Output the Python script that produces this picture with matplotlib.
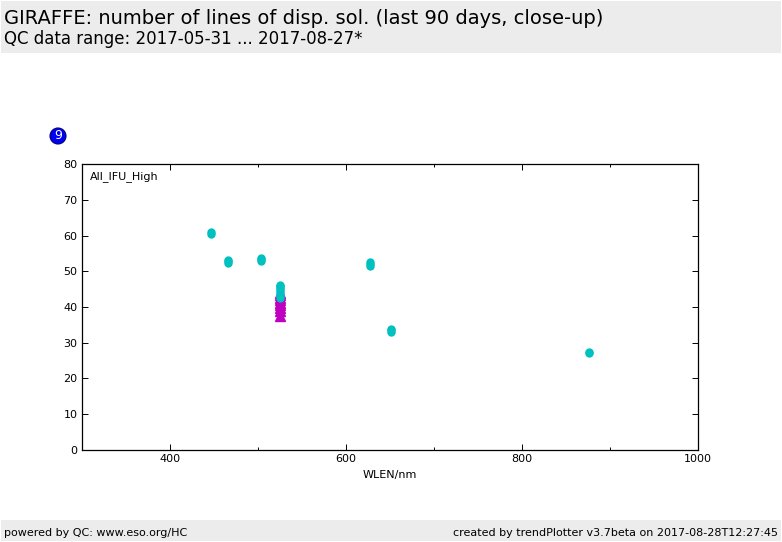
import numpy as np
import matplotlib as mpl
mpl.use('Agg')
import matplotlib.pyplot as plt
from matplotlib.patches import Rectangle
from matplotlib.ticker import MultipleLocator

W, H = 782, 542

# cyan circles
wlen_circle = [446.8, 446.8, 465.6, 465.6, 465.6, 503.6, 503.6, 503.6, 627, 627, 627, 651, 651, 651, 876, 876,
               525, 525, 525, 525, 525, 525, 525, 525, 525]
lines_circle = [60.5, 61.0, 52.4, 52.8, 53.2, 53.0, 53.4, 53.8, 51.6, 52.1, 52.6, 33.1, 33.5, 33.9, 27.1, 27.4,
                42.5, 43.0, 43.5, 44.0, 44.5, 45.0, 45.5, 46.0, 46.2]

# magenta triangles
wlen_tri = [525, 525, 525, 525, 525, 525, 525, 525, 525]
lines_tri = [37.6, 38.9, 39.8, 40.5, 41.2, 41.9, 42.6, 43.4, 44.0]

x_lim = (300, 1000)
y_lim = (0, 80)

fig = plt.figure(figsize=(W / 100, H / 100), dpi=100, facecolor='white')

def px_axes(x0, y0, x1, y1):
    return [x0 / W, 1 - y1 / H, (x1 - x0) / W, (y1 - y0) / H]

# header and footer bands
fig.patches.append(Rectangle((1 / W, 1 - 53 / H), 780 / W, 52 / H, transform=fig.transFigure,
                             facecolor='#ececec', edgecolor='none'))
fig.patches.append(Rectangle((1 / W, 1 - 541 / H), 780 / W, 21 / H, transform=fig.transFigure,
                             facecolor='#ececec', edgecolor='none'))

fig.text(4 / W, 1 - 18 / H, 'GIRAFFE: number of lines of disp. sol. (last 90 days, close-up)',
         fontsize=14.05, va='center', ha='left', color='black')
fig.text(4 / W, 1 - 39 / H, 'QC data range: 2017-05-31 ... 2017-08-27*',
         fontsize=12, va='center', ha='left', color='black')
fig.text(4 / W, 1 - 532.5 / H, 'powered by QC: www.eso.org/HC', fontsize=8, va='center', ha='left')
fig.text(778 / W, 1 - 532.5 / H, 'created by trendPlotter v3.7beta on 2017-08-28T12:27:45',
         fontsize=8, va='center', ha='right')

ax = fig.add_axes(px_axes(82.2, 164.2, 698.2, 449.8))
ax.set_xlim(*x_lim)
ax.set_ylim(*y_lim)

ax.plot(wlen_tri, lines_tri, ls='none', marker='^', ms=7.5, color='#c000c0', mec='#c000c0', clip_on=False)
ax.plot(wlen_circle, lines_circle, ls='none', marker='o', ms=5, color='#00c0c0', mec='#00c0c0', clip_on=False)

ax.xaxis.set_major_locator(MultipleLocator(200))
ax.xaxis.set_minor_locator(MultipleLocator(100))
ax.yaxis.set_major_locator(MultipleLocator(10))
ax.tick_params(which='major', direction='in', top=True, right=True, length=4.3, width=0.7, labelsize=8, pad=3)
ax.tick_params(axis='y', which='major', pad=3.5)
ax.tick_params(which='minor', direction='in', top=True, length=2.2, width=0.7)
for s in ax.spines.values():
    s.set_linewidth(0.9)
ax.set_xlabel('WLEN/nm', fontsize=8, labelpad=4)
ax.text(90 / W, 1 - 176.5 / H, 'All_IFU_High', fontsize=8, va='center', ha='left', transform=fig.transFigure)

# blue badge with the plot number
fig.text(58 / W, 1 - 136 / H, '9', fontsize=9, color='white', ha='center', va='center',
         bbox=dict(boxstyle='circle,pad=0.12', facecolor='#0000f0', edgecolor='#000080', linewidth=0.8))

fig.savefig('out.png', dpi=100)
